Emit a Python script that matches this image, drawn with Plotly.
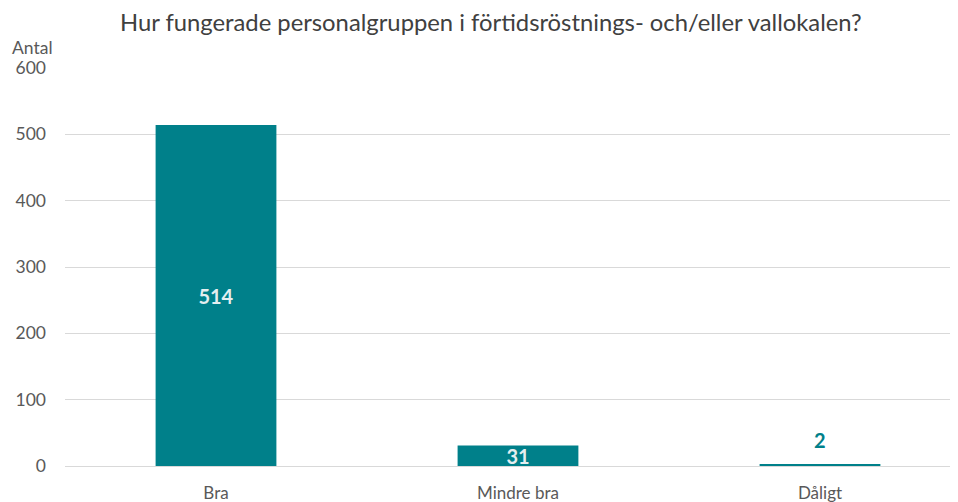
import plotly.graph_objects as go

categories = ["Bra", "Mindre bra", "Dåligt"]
values = [514, 31, 2]
label_inside = [True, True, False]
y_ticks = [0, 100, 200, 300, 400, 500, 600]

teal = "#00808A"
fig = go.Figure(go.Bar(
    x=categories, y=values,
    marker=dict(color=teal, line=dict(width=0)),
    text=[str(v) if ins else "" for v, ins in zip(values, label_inside)],
    textposition="inside",
    textangle=0,
    insidetextanchor="middle",
    textfont=dict(family="Lato", size=20, color="#E4EEF0", weight="bold"),
    cliponaxis=False,
))

for c, v, ins in zip(categories, values, label_inside):
    if not ins:
        fig.add_annotation(x=c, y=v, text=str(v), showarrow=False,
                           xanchor="center", yanchor="bottom", yshift=11,
                           font=dict(family="Lato", size=20, color=teal, weight="bold"))

fig.update_layout(
    width=958, height=502,
    margin=dict(l=57, r=8, t=60, b=44, autoexpand=False),
    paper_bgcolor="white", plot_bgcolor="white",
    bargap=0.6,
    showlegend=False,
    uniformtext=dict(minsize=18, mode="show"),
    title=dict(text="Hur fungerade personalgruppen i förtidsröstnings- och/eller vallokalen?",
               x=0.504, xanchor="center", y=0.971, yanchor="middle",
               font=dict(family="Lato", size=23.8, color="#404040")),
    font=dict(family="Lato", color="#595959"),
)
fig.update_xaxes(range=[-0.5, 2.457], showgrid=False, showline=False, ticks="",
                 automargin=False, ticklabelstandoff=15,
                 tickfont=dict(size=17, color="#595959"))
fig.update_yaxes(range=[0, 600], tickvals=y_ticks, showgrid=True, gridcolor="#D9D9D9",
                 gridwidth=1, zeroline=True, zerolinecolor="#D9D9D9", zerolinewidth=1,
                 showline=False, ticks="", ticklabelstandoff=18, automargin=False,
                 tickfont=dict(size=17.5, color="#595959"))
fig.add_annotation(text="Antal", xref="paper", yref="paper", x=-0.0617, y=1.0,
                   xanchor="left", yanchor="middle", yshift=21, showarrow=False,
                   font=dict(family="Lato", size=17.5, color="#595959"))

fig.write_html("out.html")
